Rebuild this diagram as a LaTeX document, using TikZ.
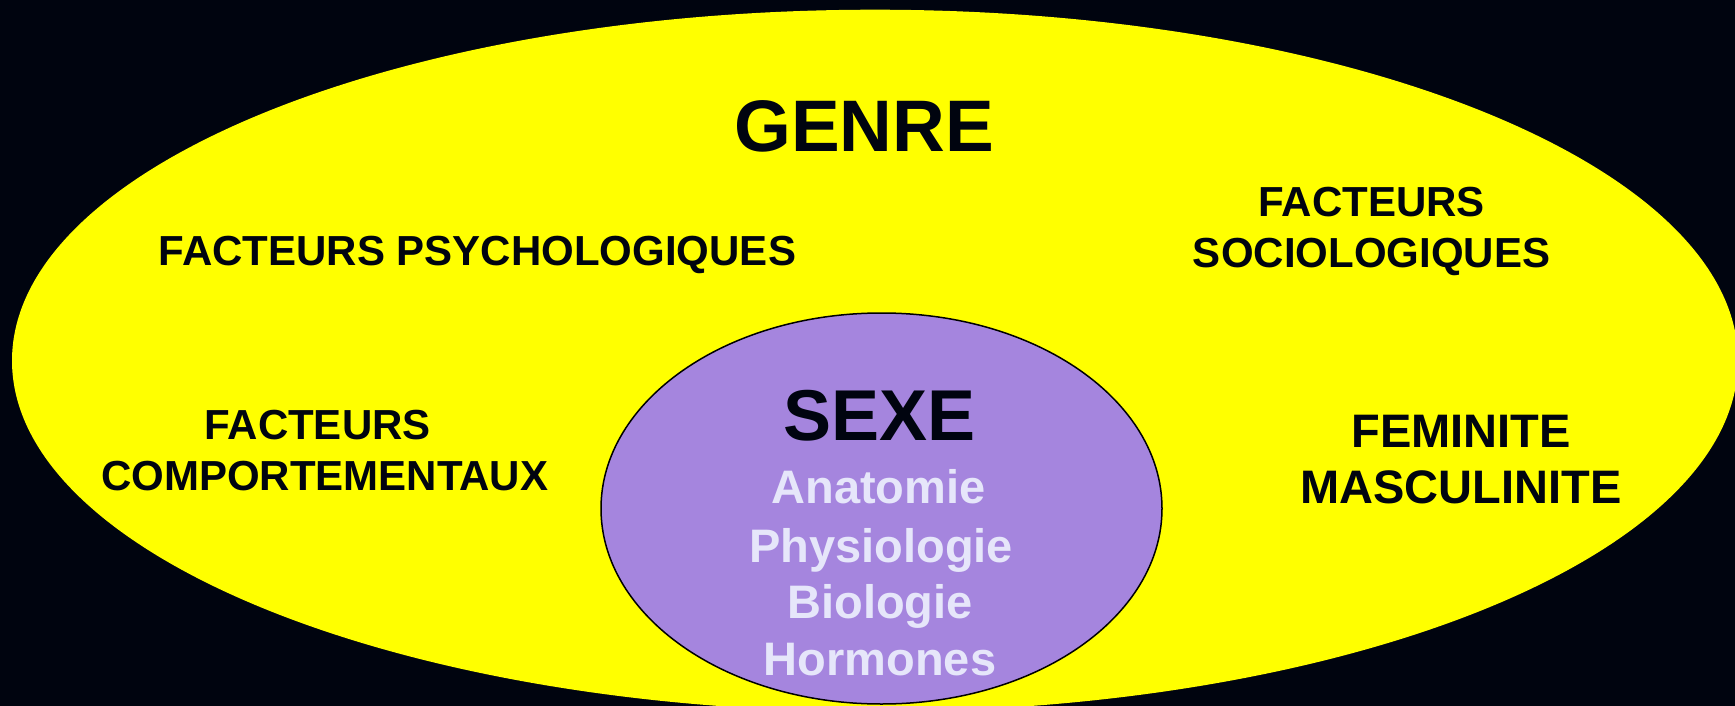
\documentclass[tikz,border=0pt]{standalone}
\usepackage{fontspec}
\setmainfont{Liberation Sans}
\definecolor{bgnavy}{HTML}{00040F}
\definecolor{genreyellow}{HTML}{FFFF00}
\definecolor{sexepurple}{HTML}{A585DE}
\definecolor{lavtext}{HTML}{E6E6FA}
\definecolor{darktext}{HTML}{00040F}
\begin{document}
\begin{tikzpicture}[x=1pt,y=-1pt,
  lbl/.style={anchor=base,inner sep=0pt,outer sep=0pt,text=darktext,font=\bfseries\fontsize{42}{50}\selectfont},
  biglbl/.style={lbl,font=\bfseries\fontsize{73}{80}\selectfont},
  midlbl/.style={lbl,font=\bfseries\fontsize{47}{56}\selectfont},
  sexlbl/.style={lbl,text=lavtext,font=\bfseries\fontsize{47}{56}\selectfont}]
\fill[bgnavy] (0,0) rectangle (1735,706);
\useasboundingbox (0,0) rectangle (1735,706);
% outer ellipse (GENRE)
\fill[genreyellow] (875,360.7) ellipse [x radius=863, y radius=351];
% inner ellipse (SEXE)
\filldraw[fill=sexepurple,draw=black,line width=1.5pt] (881.5,508.5) ellipse [x radius=280.5, y radius=195.5];
% texts
\node[biglbl] (genre) at (864,152) {GENRE};
\node[lbl] (psy) at (477.5,265) {FACTEURS PSYCHOLOGIQUES};
\node[lbl] (socA) at (1371.5,216) {FACTEURS};
\node[lbl] (socB) at (1371.5,267) {SOCIOLOGIQUES};
\node[lbl] (compA) at (317.5,439) {FACTEURS};
\node[lbl] (compB) at (324.7,490) {COMPORTEMENTAUX};
\node[midlbl] (fem) at (1461,447) {FEMINITE};
\node[midlbl] (masc) at (1461,503) {MASCULINITE};
\node[biglbl,font=\bfseries\fontsize{72}{80}\selectfont] (sexe) at (879.5,440) {SEXE};
\node[sexlbl] (anat) at (878.5,503) {Anatomie};
\node[sexlbl] (phys) at (881,562) {Physiologie};
\node[sexlbl] (bio) at (880,618) {Biologie};
\node[sexlbl] (horm) at (880,675) {Hormones};
\end{tikzpicture}
\end{document}
